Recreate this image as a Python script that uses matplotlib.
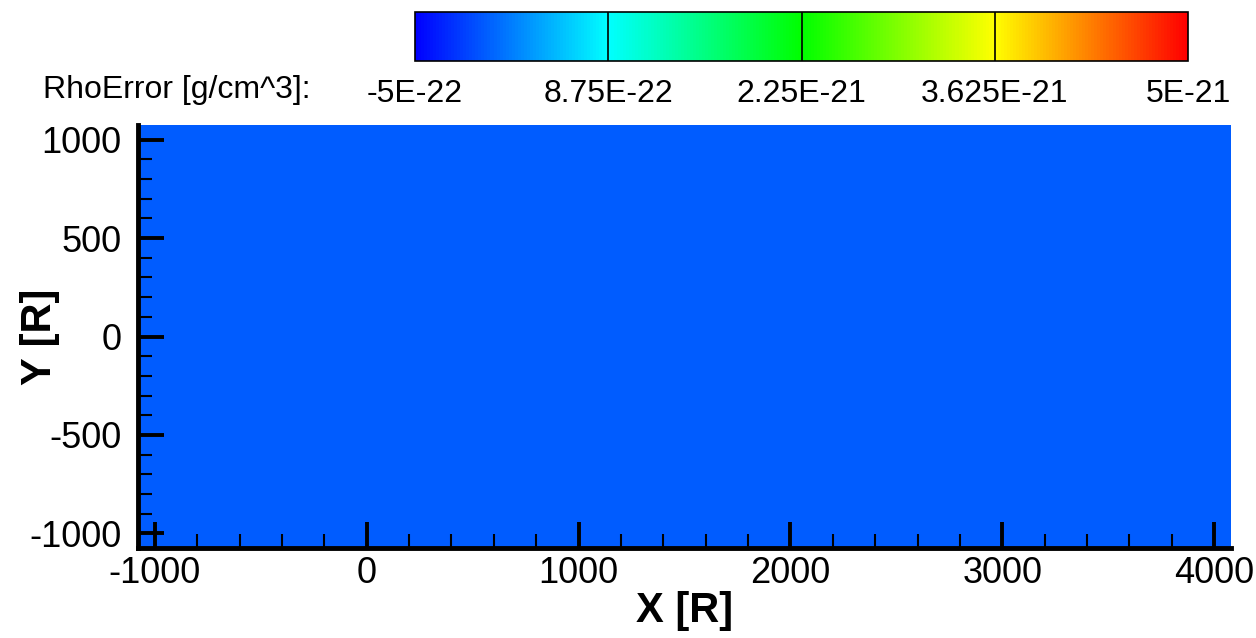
#!/usr/bin/env python3

import numpy as np
import matplotlib
matplotlib.use('Agg')
import matplotlib.pyplot as plt
from matplotlib.colors import LinearSegmentedColormap
from matplotlib.ticker import MultipleLocator

# field data (single constant cell covering the domain)
x_edges = [-1080, 4080]
y_edges = [-1075, 1075]
rho_error = [[0.0]]

# contour legend levels
levels = [-5e-22, 8.75e-22, 2.25e-21, 3.625e-21, 5e-21]
level_labels = ['-5E-22', '8.75E-22', '2.25E-21', '3.625E-21', '5E-21']

x_ticks = [-1000, 0, 1000, 2000, 3000, 4000]
y_ticks = [-1000, -500, 0, 500, 1000]

plt.rcParams['font.family'] = ['Liberation Sans', 'DejaVu Sans']
plt.rcParams['axes.unicode_minus'] = False

# small rainbow: blue -> cyan -> green -> yellow -> red
cmap = LinearSegmentedColormap.from_list(
    'small_rainbow', ['#0000ff', '#00ffff', '#00ff00', '#ffff00', '#ff0000'])

fig = plt.figure(figsize=(12.56, 6.38), dpi=100)
ax = fig.add_axes([138/1256, 1 - 548/638, (1231 - 138)/1256, (548 - 125)/638])

mesh = ax.pcolormesh(x_edges, y_edges, np.array(rho_error), cmap=cmap,
                     vmin=levels[0], vmax=levels[-1], shading='flat')

ax.set_xlim(x_edges[0], x_edges[-1])
ax.set_ylim(y_edges[0], y_edges[-1])
ax.set_xticks(x_ticks)
ax.set_yticks(y_ticks)
ax.xaxis.set_minor_locator(MultipleLocator(200))
ax.yaxis.set_minor_locator(MultipleLocator(100))

ax.spines['top'].set_visible(False)
ax.spines['right'].set_visible(False)
for s in ('left', 'bottom'):
    ax.spines[s].set_linewidth(3.5)
    ax.spines[s].set_zorder(5)

ax.tick_params(which='major', direction='in', length=19, width=2.8,
               labelsize=26, top=False, right=False)
ax.tick_params(axis='x', which='major', pad=6)
ax.tick_params(axis='y', which='major', pad=12)
ax.tick_params(which='minor', direction='in', length=10, width=1.5,
               top=False, right=False)

ax.set_xlabel('X [R]', fontsize=30, fontweight='bold', labelpad=0)
ax.set_ylabel('Y [R]', fontsize=30, fontweight='bold', va='center')
ax.yaxis.set_label_coords((40 - 138) / 1093, 0.5)

# legend bar across the top
cax = fig.add_axes([415/1256, 1 - 61/638, (1188 - 415)/1256, 49/638])
cbar = fig.colorbar(mesh, cax=cax, orientation='horizontal')
cbar.set_ticks(levels)
cbar.set_ticklabels(level_labels)
cbar.ax.tick_params(length=0, pad=13, labelsize=23)
cbar.outline.set_linewidth(1.2)
for lv in levels[1:-1]:
    cax.axvline(lv, color='black', lw=1.2)

fig.text(43/1256, 1 - 90/638, 'RhoError [g/cm^3]:', fontsize=23,
         ha='left', va='center')

plt.savefig('out.png', dpi=100)
